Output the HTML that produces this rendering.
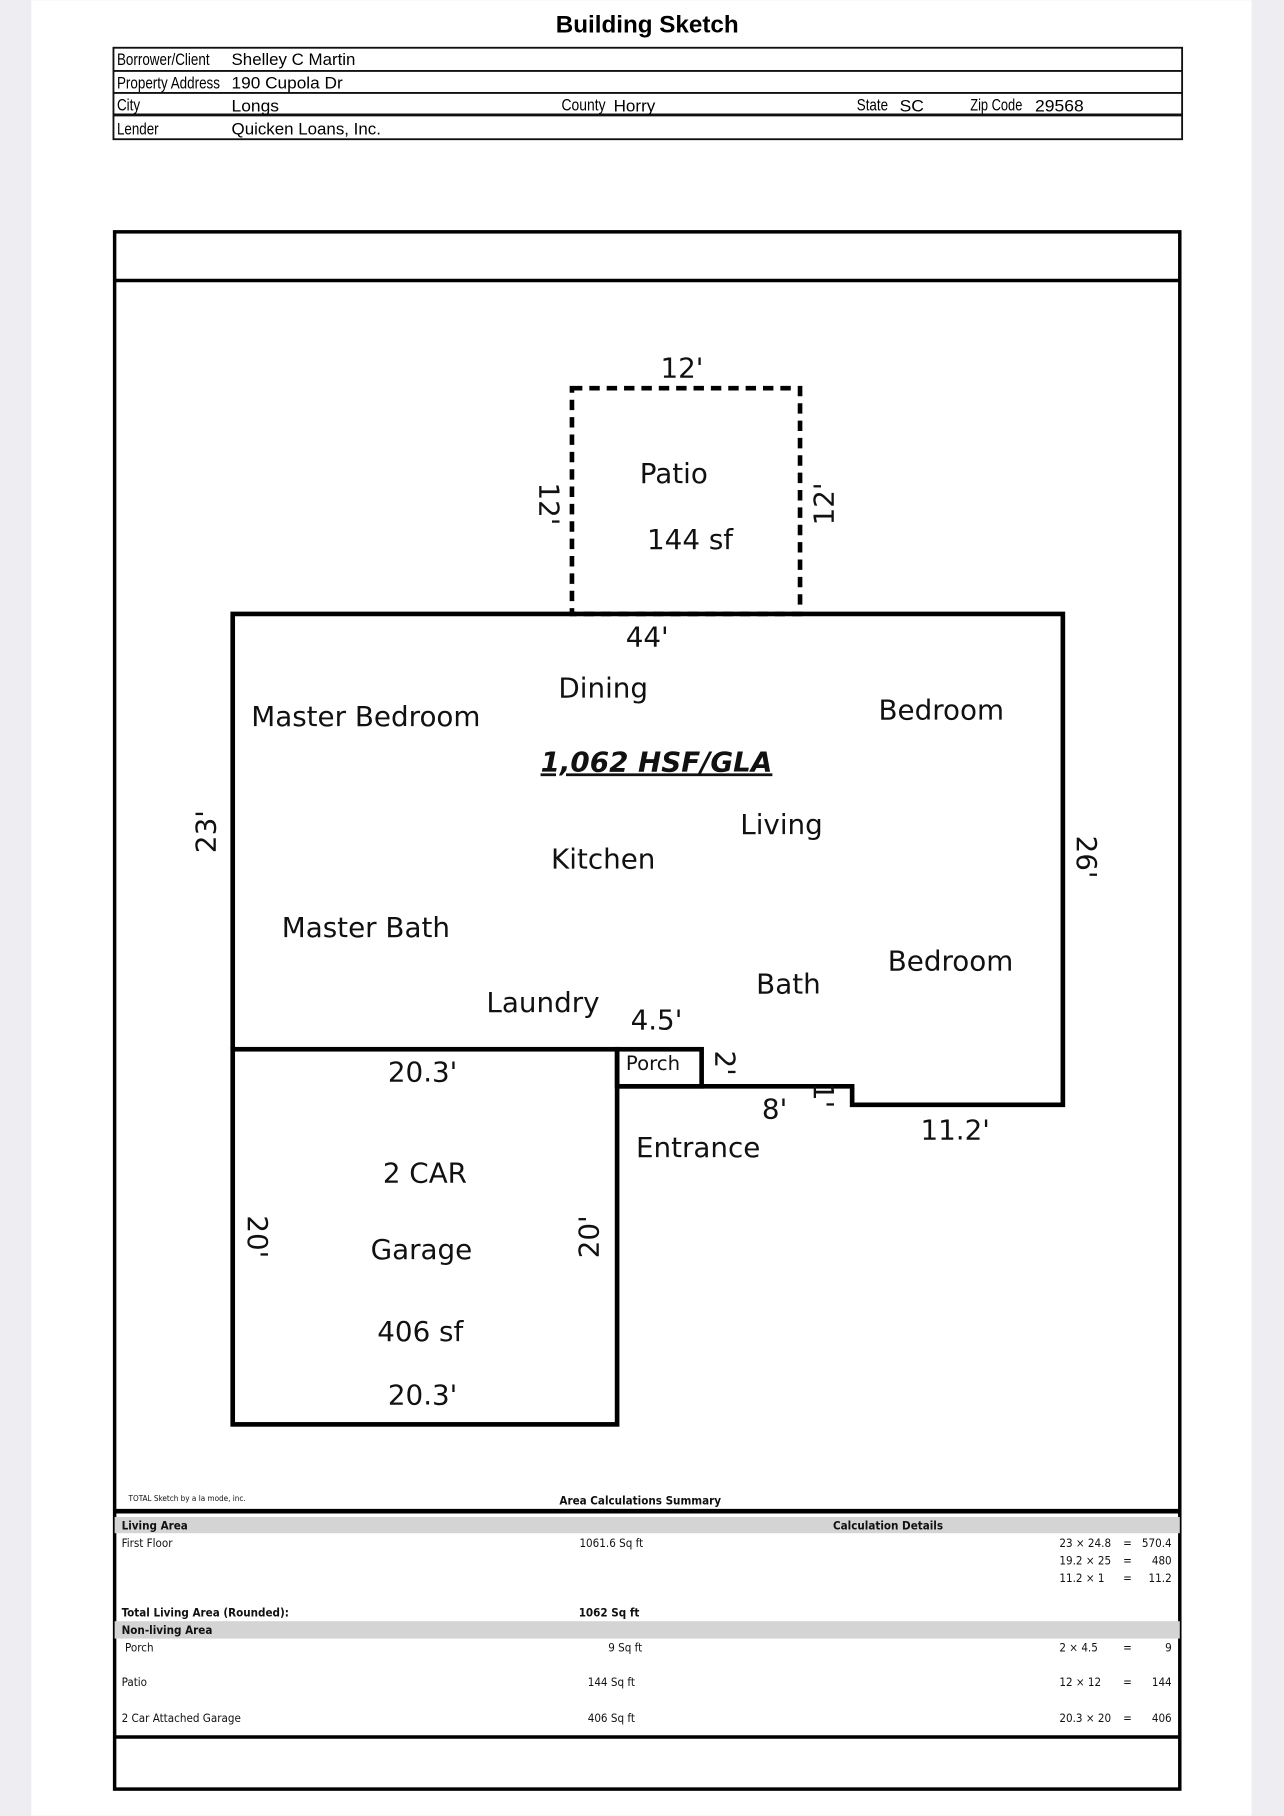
<!DOCTYPE html>
<html><head><meta charset="utf-8"><style>
html,body{margin:0;padding:0;background:#eeeef2;}
svg{display:block;}
.hd{font-family:"Liberation Sans",sans-serif;font-size:14px;}
.r{font-family:"DejaVu Sans","Liberation Sans",sans-serif;font-size:24px;fill:#111;}
.s{font-family:"DejaVu Sans Condensed","DejaVu Sans",sans-serif;font-size:10px;fill:#111;}
.b{font-weight:bold;}
</style></head><body>
<svg width="1284" height="1816" viewBox="0 0 1109 1568" xmlns="http://www.w3.org/2000/svg">
<rect x="0" y="0" width="1109" height="1568" fill="#eeeef2"/>
<rect x="27" y="0" width="1054" height="1568" fill="#fff"/>
<text x="559" y="28" text-anchor="middle" font-family="Liberation Sans, sans-serif" font-weight="bold" font-size="21" textLength="158" lengthAdjust="spacingAndGlyphs">Building Sketch</text>
<g fill="none" stroke="#111" stroke-width="1.6">
<rect x="98" y="41" width="923" height="79"/>
<line x1="98" y1="61" x2="1021" y2="61"/>
<line x1="98" y1="80" x2="1021" y2="80"/>
<line x1="98" y1="99" x2="1021" y2="99" stroke-width="2.5"/>
</g>
<g class="hd" lengthAdjust="spacingAndGlyphs">
<text x="101" y="56" textLength="80" lengthAdjust="spacingAndGlyphs">Borrower/Client</text><text x="200" y="56" textLength="107" lengthAdjust="spacingAndGlyphs">Shelley C Martin</text>
<text x="101" y="76" textLength="89" lengthAdjust="spacingAndGlyphs">Property Address</text><text x="200" y="76" textLength="96" lengthAdjust="spacingAndGlyphs">190 Cupola Dr</text>
<text x="101" y="95" textLength="20" lengthAdjust="spacingAndGlyphs">City</text><text x="200" y="96" textLength="41" lengthAdjust="spacingAndGlyphs">Longs</text>
<text x="485" y="95" textLength="38" lengthAdjust="spacingAndGlyphs">County</text><text x="530" y="96" textLength="36" lengthAdjust="spacingAndGlyphs">Horry</text>
<text x="740" y="95" textLength="27" lengthAdjust="spacingAndGlyphs">State</text><text x="777" y="96" textLength="21" lengthAdjust="spacingAndGlyphs">SC</text>
<text x="838" y="95" textLength="45" lengthAdjust="spacingAndGlyphs">Zip Code</text><text x="894" y="96" textLength="42" lengthAdjust="spacingAndGlyphs">29568</text>
<text x="101" y="116" textLength="36" lengthAdjust="spacingAndGlyphs">Lender</text><text x="200" y="116" textLength="129" lengthAdjust="spacingAndGlyphs">Quicken Loans, Inc.</text>
</g>
<g fill="none" stroke="#000">
<rect x="99" y="200" width="920" height="1345" stroke-width="3"/>
<line x1="99" y1="242" x2="1019" y2="242" stroke-width="3"/>
<line x1="99" y1="1305" x2="1019" y2="1305" stroke-width="4"/>
<line x1="99" y1="1500" x2="1019" y2="1500" stroke-width="3"/>
<rect x="494" y="335" width="197" height="195" stroke-width="4" stroke-dasharray="9,6"/>
<polyline points="201,906 201,530 918,530 918,954 736,954 736,938 533,938" stroke-width="4"/>
<rect x="201" y="906" width="332" height="324" stroke-width="4"/>
<rect x="533" y="906" width="73" height="32" stroke-width="4"/>
</g>
<rect x="99" y="1310" width="920" height="14" fill="#d4d4d4"/>
<rect x="99" y="1400" width="920" height="15" fill="#d4d4d4"/>
<g class="r" text-anchor="middle">
<text x="589" y="326">12'</text>
<text x="582" y="417">Patio</text>
<text x="596" y="474">144 sf</text>
<text transform="translate(466,435) rotate(90)">12'</text>
<text transform="translate(720,435) rotate(-90)">12'</text>
<text x="559" y="558">44'</text>
<text x="521" y="602">Dining</text>
<text x="316" y="627">Master Bedroom</text>
<text x="813" y="621">Bedroom</text>
<text x="567" y="666" font-weight="bold" font-style="italic" text-decoration="underline">1,062 HSF/GLA</text>
<text transform="translate(186,718) rotate(-90)">23'</text>
<text x="675" y="720">Living</text>
<text x="521" y="750">Kitchen</text>
<text transform="translate(930,740) rotate(90)">26'</text>
<text x="316" y="809">Master Bath</text>
<text x="821" y="838">Bedroom</text>
<text x="681" y="858">Bath</text>
<text x="469" y="874">Laundry</text>
<text x="567" y="889">4.5'</text>
<text x="564" y="924" font-size="17">Porch</text>
<text transform="translate(618,918) rotate(90)">2'</text>
<text transform="translate(703,946) rotate(90)">1'</text>
<text x="669" y="966">8'</text>
<text x="365" y="934">20.3'</text>
<text x="825" y="984">11.2'</text>
<text x="603" y="999">Entrance</text>
<text x="367" y="1021">2 CAR</text>
<text transform="translate(214,1068) rotate(90)">20'</text>
<text x="364" y="1087">Garage</text>
<text transform="translate(517,1068) rotate(-90)">20'</text>
<text x="363" y="1158">406 sf</text>
<text x="365" y="1213">20.3'</text>
</g>
<g class="s">
<text x="111" y="1296" font-size="7">TOTAL Sketch by a la mode, inc.</text>
<text x="553" y="1299" text-anchor="middle" class="b">Area Calculations Summary</text>
<text x="105" y="1321" class="b">Living Area</text>
<text x="767" y="1321" text-anchor="middle" class="b">Calculation Details</text>
<text x="105" y="1336">First Floor</text>
<text x="528" y="1336" text-anchor="middle">1061.6 Sq ft</text>
<text x="105" y="1396" class="b">Total Living Area (Rounded):</text>
<text x="526" y="1396" text-anchor="middle" class="b">1062 Sq ft</text>
<text x="105" y="1411" class="b">Non-living Area</text>
<text x="108" y="1426">Porch</text>
<text x="540" y="1426" text-anchor="middle">9 Sq ft</text>
<text x="105" y="1456">Patio</text>
<text x="528" y="1456" text-anchor="middle">144 Sq ft</text>
<text x="105" y="1487">2 Car Attached Garage</text>
<text x="528" y="1487" text-anchor="middle">406 Sq ft</text>
</g>
<g class="s">
<text x="915" y="1336">23 × 24.8</text><text x="970" y="1336">=</text><text x="1012" y="1336" text-anchor="end">570.4</text>
<text x="915" y="1351">19.2 × 25</text><text x="970" y="1351">=</text><text x="1012" y="1351" text-anchor="end">480</text>
<text x="915" y="1366">11.2 × 1</text><text x="970" y="1366">=</text><text x="1012" y="1366" text-anchor="end">11.2</text>
<text x="915" y="1426">2 × 4.5</text><text x="970" y="1426">=</text><text x="1012" y="1426" text-anchor="end">9</text>
<text x="915" y="1456">12 × 12</text><text x="970" y="1456">=</text><text x="1012" y="1456" text-anchor="end">144</text>
<text x="915" y="1487">20.3 × 20</text><text x="970" y="1487">=</text><text x="1012" y="1487" text-anchor="end">406</text>
</g>
</svg>
</body></html>
